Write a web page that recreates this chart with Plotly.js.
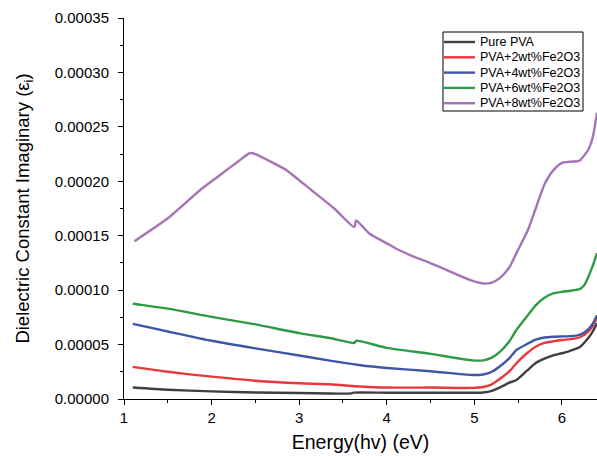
<!DOCTYPE html>
<html>
<head>
<meta charset="utf-8">
<script src="https://cdn.plot.ly/plotly-3.0.1.min.js"></script>
<style>html,body{margin:0;padding:0;background:#fff;}#chart{width:597px;height:456px;}</style>
</head>
<body>
<div id="chart"></div>
<script>
const seriesNames = ["Pure PVA", "PVA+2wt%Fe2O3", "PVA+4wt%Fe2O3", "PVA+6wt%Fe2O3", "PVA+8wt%Fe2O3"];
const seriesColors = ["#404040", "#e8383b", "#3f56a8", "#2f9a48", "#a374b8"];

const energyPure = [1.1,1.5,2.0,2.5,3.0,3.35,3.6,3.62,4.0,4.5,4.98,5.1,5.2,5.3,5.4,5.48,5.6,5.7,5.8,5.9,6.0,6.1,6.2,6.3,6.35,6.4];
const epsPure = [10.5e-6,8.5e-6,7.0e-6,6.0e-6,5.5e-6,5.0e-6,5.2e-6,5.8e-6,5.8e-6,5.8e-6,5.8e-6,6.0e-6,7.5e-6,11e-6,15e-6,17.5e-6,26e-6,33e-6,37e-6,40e-6,42e-6,44.5e-6,47.5e-6,56e-6,62e-6,69.5e-6];

const energy2 = [1.1,1.5,2.0,2.5,3.0,3.35,3.7,4.0,4.5,4.98,5.1,5.2,5.3,5.4,5.48,5.6,5.7,5.8,5.9,6.0,6.1,6.2,6.3,6.35,6.4];
const eps2 = [29.5e-6,25e-6,20.5e-6,16.8e-6,14.5e-6,13.5e-6,11.5e-6,10.5e-6,10.5e-6,10.2e-6,11e-6,13.5e-6,19e-6,25.5e-6,32.8e-6,42e-6,48e-6,51.5e-6,53e-6,54.2e-6,55e-6,56.5e-6,62e-6,67e-6,74.4e-6];

const energy4 = [1.1,1.3,1.5,2.0,2.5,3.0,3.35,3.7,4.0,4.5,4.98,5.1,5.2,5.3,5.4,5.48,5.6,5.7,5.8,5.9,6.0,6.1,6.2,6.3,6.35,6.4];
const eps4 = [69e-6,65.5e-6,62e-6,53.5e-6,46.5e-6,40e-6,35.2e-6,31e-6,28.5e-6,25.5e-6,22e-6,22.5e-6,25e-6,30.5e-6,37.5e-6,45e-6,50.5e-6,54.5e-6,56.5e-6,57.2e-6,57.5e-6,57.8e-6,59e-6,64e-6,69e-6,77e-6];

const energy6 = [1.1,1.2,1.5,2.0,2.5,3.0,3.35,3.63,3.65,4.0,4.5,4.98,5.1,5.2,5.3,5.4,5.48,5.6,5.7,5.8,5.9,6.0,6.1,6.2,6.25,6.3,6.35,6.4];
const eps6 = [87.5e-6,86.5e-6,83e-6,75.5e-6,68.5e-6,60.5e-6,56e-6,51.5e-6,53.5e-6,47e-6,41.5e-6,35.5e-6,35.5e-6,38e-6,44e-6,53e-6,63.4e-6,76e-6,86e-6,93e-6,97e-6,98.5e-6,99.5e-6,101e-6,104e-6,112e-6,122e-6,134e-6];

const energy8 = [1.12,1.5,1.87,2.0,2.1,2.3,2.44,2.5,2.7,2.86,3.0,3.2,3.4,3.63,3.65,3.8,4.0,4.11,4.3,4.49,4.7,4.87,5.0,5.12,5.2,5.29,5.4,5.48,5.61,5.7,5.8,5.9,6.0,6.1,6.2,6.3,6.35,6.4];
const eps8 = [145e-6,166e-6,192e-6,200e-6,206e-6,218e-6,226e-6,225e-6,217e-6,210e-6,201e-6,188e-6,175e-6,158e-6,164e-6,152e-6,143e-6,138e-6,131e-6,125e-6,118e-6,112e-6,108e-6,106e-6,107e-6,111e-6,121e-6,134e-6,155e-6,175e-6,197e-6,210e-6,217e-6,218e-6,219e-6,229e-6,240e-6,263e-6];

const xs = [energyPure, energy2, energy4, energy6, energy8];
const ys = [epsPure, eps2, eps4, eps6, eps8];

const font = "Liberation Sans, Arial, sans-serif";
const traces = xs.map((x, i) => ({
  x: x, y: ys[i], name: seriesNames[i], type: "scatter", mode: "lines",
  line: {color: seriesColors[i], width: 2.4, shape: "spline", smoothing: 0.6},
  showlegend: false
}));

// Plot area in pixels (for the hand-built legend box)
const W = 597, H = 456, ML = 124, MR = 0, MT = 18, MB = 57;
const PW = W - ML - MR, PH = H - MT - MB;
const px2x = p => (p - ML) / PW;
const py2y = p => (H - MB - p) / PH;

const legLeft = 443, legRight = 583, legTop = 32, legBottom = 111;
const legRow0 = 42, legStep = 15.3, legLineLen = 32;

const shapes = [{
  type: "rect", xref: "paper", yref: "paper",
  x0: px2x(legLeft), x1: px2x(legRight), y0: py2y(legBottom), y1: py2y(legTop),
  line: {color: "#000", width: 1}, fillcolor: "#fff", layer: "above"
}];
const annotations = [];
seriesNames.forEach((name, i) => {
  const yy = py2y(legRow0 + i * legStep);
  shapes.push({
    type: "line", xref: "paper", yref: "paper",
    x0: px2x(legLeft + 1), x1: px2x(legLeft + legLineLen), y0: yy, y1: yy,
    line: {color: seriesColors[i], width: 2.4}, layer: "above"
  });
  annotations.push({
    xref: "paper", yref: "paper", x: px2x(legLeft + legLineLen + 3), y: yy,
    xanchor: "left", yanchor: "middle", showarrow: false, text: name,
    font: {family: font, size: 12.5, color: "#000"}
  });
});

const layout = {
  width: W, height: H,
  margin: {l: ML, r: MR, t: MT, b: MB},
  paper_bgcolor: "#fff", plot_bgcolor: "#fff",
  font: {family: font, color: "#000", size: 15},
  showlegend: false,
  shapes: shapes,
  annotations: annotations,
  xaxis: {
    range: [1, 6.4], tickmode: "linear", tick0: 1, dtick: 1,
    ticks: "outside", ticklen: 5, tickwidth: 1, tickcolor: "#000",
    showline: true, linecolor: "#000", linewidth: 1,
    showgrid: false, zeroline: false,
    minor: {dtick: 0.5, ticks: "outside", ticklen: 3, tickcolor: "#000", showgrid: false},
    tickfont: {family: font, size: 15},
    title: {text: "Energy(hv) (eV)", font: {family: font, size: 19.5}, standoff: 10}
  },
  yaxis: {
    range: [0, 0.00035], tickmode: "linear", tick0: 0, dtick: 0.00005,
    tickformat: ".5f",
    ticks: "outside", ticklen: 5, tickwidth: 1, tickcolor: "#000",
    showline: true, linecolor: "#000", linewidth: 1,
    showgrid: false, zeroline: false,
    minor: {dtick: 0.000025, ticks: "outside", ticklen: 3, tickcolor: "#000", showgrid: false},
    tickfont: {family: font, size: 15},
    ticklabelstandoff: 6,
    title: {text: "Dielectric Constant Imaginary (ε<sub>i</sub>)", font: {family: font, size: 18.5}, standoff: 20}
  }
};

Plotly.newPlot("chart", traces, layout, {displayModeBar: false, staticPlot: true});
</script>
</body>
</html>
